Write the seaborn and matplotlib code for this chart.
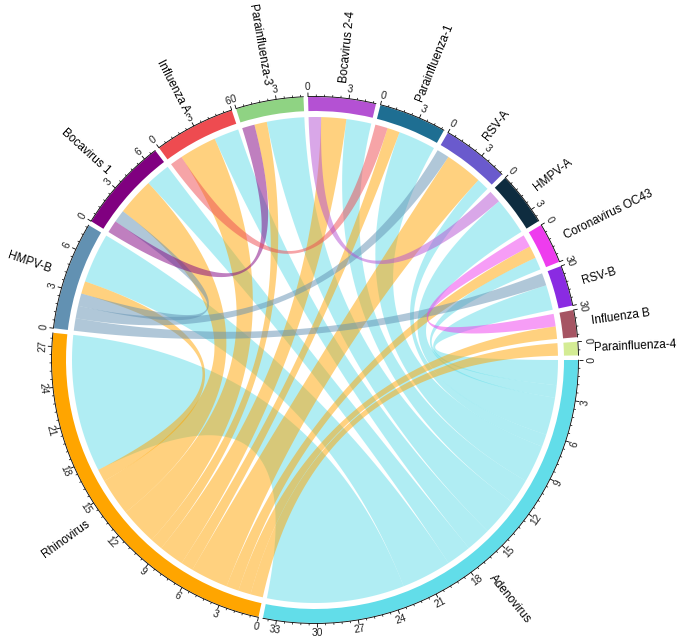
import numpy as np
import pandas as pd
import matplotlib
matplotlib.use("Agg")
import matplotlib.pyplot as plt
from matplotlib.patches import Wedge, Polygon
from matplotlib.collections import LineCollection
import seaborn as sns

# sectors in drawing order (clockwise from 3 o'clock)
sectors = ["Adenovirus", "Rhinovirus", "HMPV-B", "Bocavirus 1", "Influenza A",
           "Parainfluenza-3", "Bocavirus 2-4", "Parainfluenza-1", "RSV-A", "HMPV-A",
           "Coronavirus OC43", "RSV-B", "Influenza B", "Parainfluenza-4"]
sector_colors = ["#62DDE9", "#FFA500", "#6291B2", "#800080", "#EE4B50",
                 "#8FD383", "#B451D3", "#1E6E92", "#6A5ACD", "#0E2C3F",
                 "#EE3CEE", "#8A2BE2", "#A65563", "#D4EC94"]

# co-detections (from -> to, count)
link_from = ["Adenovirus"] * 11 + ["Rhinovirus"] * 10 + ["HMPV-B"] * 3 + \
            ["Bocavirus 1", "Influenza A", "Bocavirus 2-4", "Coronavirus OC43"]
link_to = ["Rhinovirus", "HMPV-B", "Bocavirus 1", "Influenza A", "Parainfluenza-3",
           "Bocavirus 2-4", "Parainfluenza-1", "RSV-A", "HMPV-A", "Coronavirus OC43", "RSV-B",
           "HMPV-B", "Bocavirus 1", "Influenza A", "Parainfluenza-3", "Bocavirus 2-4",
           "Parainfluenza-1", "RSV-A", "Coronavirus OC43", "Influenza B", "Parainfluenza-4",
           "Bocavirus 1", "RSV-A", "RSV-B",
           "Parainfluenza-3", "Parainfluenza-1", "HMPV-A", "Influenza B"]
link_value = [11, 4, 2, 2, 3, 2, 3, 1, 3, 1, 2,
              1, 3, 3, 1, 2, 1, 3, 1, 1, 1,
              1, 1, 1,
              1, 1, 1, 1]

links = pd.DataFrame({"src": link_from, "dst": link_to, "value": link_value})
idx = {s: i for i, s in enumerate(sectors)}
links["si"] = links["src"].map(idx)
links["di"] = links["dst"].map(idx)

sizes = np.zeros(len(sectors))
for _, r in links.iterrows():
    sizes[r.si] += r.value
    sizes[r.di] += r.value

gap = 1.0
unit = (360 - gap * len(sectors)) / sizes.sum()
starts = np.concatenate([[0], np.cumsum(sizes[:-1])]) * unit + np.arange(len(sectors)) * gap

# place link ends inside each sector: outgoing first, then incoming
ends = {}
for i in range(len(sectors)):
    pos = 0.0
    out = links[links.si == i].sort_values("di", ascending=False)
    for k, r in out.iterrows():
        ends[(k, "a")] = (pos, pos + r.value)
        pos += r.value
    inc = links[links.di == i].sort_values("si", ascending=False)
    for k, r in inc.iterrows():
        ends[(k, "b")] = (pos, pos + r.value)
        pos += r.value

R_LINK, R_IN, R_OUT = 243, 249, 263


def ang(i, v):
    return starts[i] + v * unit


def xy(theta, r):
    t = np.deg2rad(theta)
    return np.column_stack([r * np.cos(t), -r * np.sin(t)])


def arc(t1, t2, r, n=40):
    return xy(np.linspace(t1, t2, n), r)


def bezier(t1, t2, r, n=60):
    p0 = xy(np.array([t1]), r)[0]
    p2 = xy(np.array([t2]), r)[0]
    t = np.linspace(0, 1, n)[:, None]
    return (1 - t) ** 2 * p0 + t ** 2 * p2


sns.set_theme(style="white")
plt.rcParams["font.family"] = ["Liberation Sans", "DejaVu Sans"]

fig = plt.figure(figsize=(6.82, 6.38), dpi=100)
ax = fig.add_axes([0, 0, 1, 1])
ax.set_xlim(-315, 367)
ax.set_ylim(-278, 360)
ax.axis("off")

# links
for k, r in links.iterrows():
    a1, a2 = [ang(r.si, v) for v in ends[(k, "a")]]
    b1, b2 = [ang(r.di, v) for v in ends[(k, "b")]]
    pts = np.vstack([arc(a1, a2, R_LINK), bezier(a2, b1, R_LINK),
                     arc(b1, b2, R_LINK), bezier(b2, a1, R_LINK)])
    ax.add_patch(Polygon(pts, closed=True, facecolor=sector_colors[r.si],
                         alpha=0.5, edgecolor="none", lw=0))

# sector ring, axis and labels
segs_major, segs_minor = [], []
for i, name in enumerate(sectors):
    t0, t1 = starts[i], starts[i] + sizes[i] * unit
    ax.add_patch(Wedge((0, 0), R_OUT, -t1, -t0, width=R_OUT - R_IN,
                       facecolor=sector_colors[i], edgecolor="none"))
    line = arc(t0, t1, R_OUT + 0.5)
    ax.plot(line[:, 0], line[:, 1], color="black", lw=0.6)
    for v in np.arange(0, sizes[i] + 1e-9, 0.6):
        th = ang(i, v)
        major = abs(v / 3 - round(v / 3)) < 1e-6
        p = xy(np.array([th, th]), np.array([R_OUT + 0.5, R_OUT + (4.5 if major else 2.5)]))
        (segs_major if major else segs_minor).append(p)
        if major:
            phi = -th
            lp = xy(np.array([th]), R_OUT + 5)[0]
            if np.sin(np.deg2rad(phi)) >= 0:
                ax.text(lp[0], lp[1], f"{int(round(v))}", rotation=phi - 90, ha="center",
                        va="bottom", rotation_mode="anchor", fontsize=7.4, color="#222222")
            else:
                ax.text(lp[0], lp[1], f"{int(round(v))}", rotation=phi + 90, ha="center",
                        va="top", rotation_mode="anchor", fontsize=7.4, color="#222222")
    mid = (t0 + t1) / 2
    phi = -mid
    np_ = xy(np.array([mid]), 279)[0]
    if np.cos(np.deg2rad(phi)) >= 0:
        ax.text(np_[0], np_[1], name, rotation=phi, ha="left", va="center",
                rotation_mode="anchor", fontsize=8.5, color="black")
    else:
        ax.text(np_[0], np_[1], name, rotation=phi + 180, ha="right", va="center",
                rotation_mode="anchor", fontsize=8.5, color="black")

ax.add_collection(LineCollection(segs_major, colors="black", linewidths=0.6))
ax.add_collection(LineCollection(segs_minor, colors="black", linewidths=0.5))

fig.savefig("out.png", dpi=100)
